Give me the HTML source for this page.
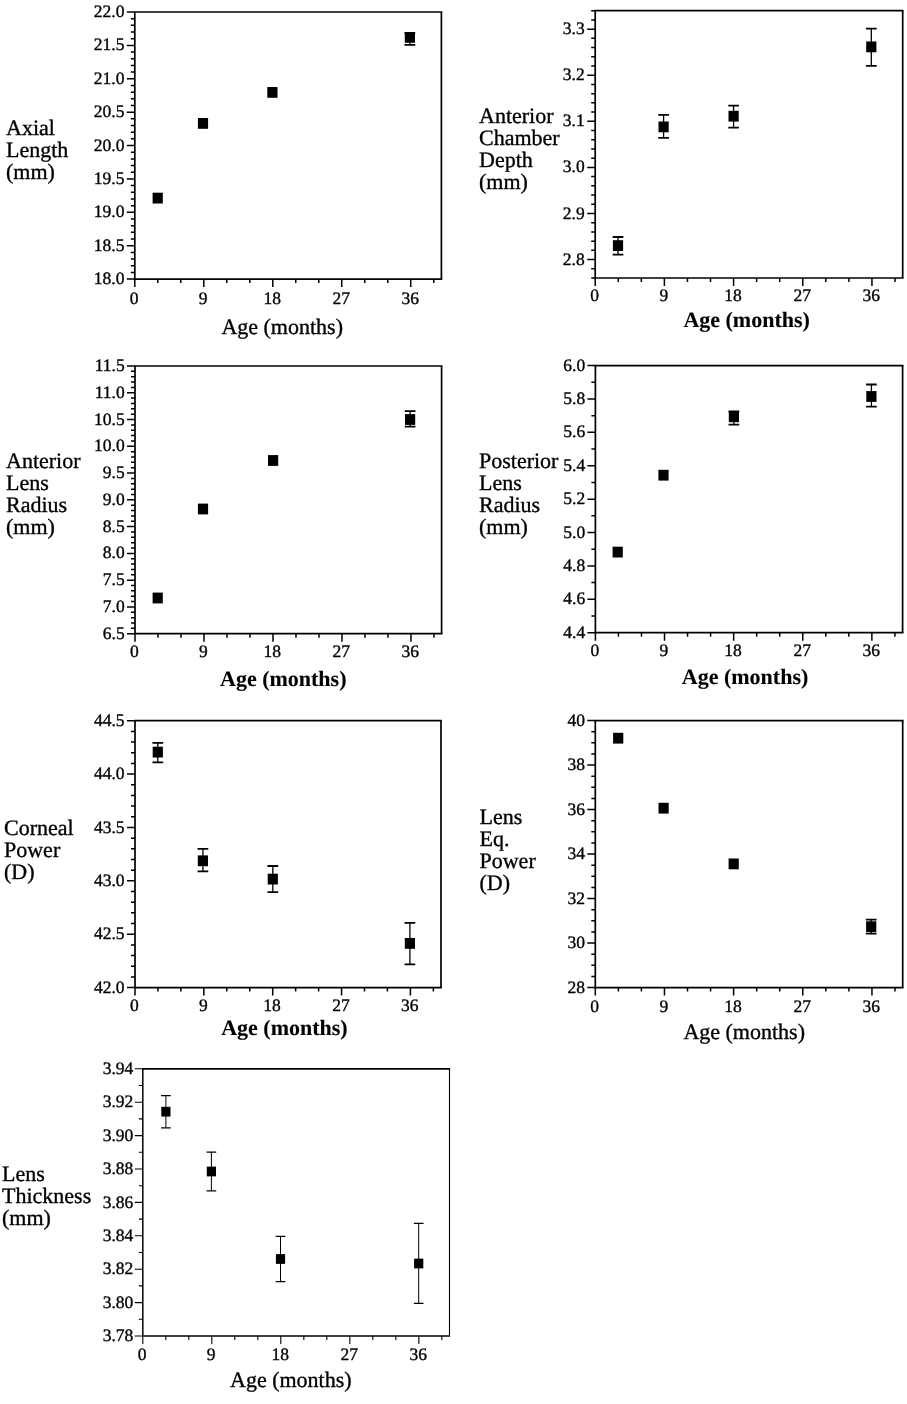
<!DOCTYPE html>
<html><head><meta charset="utf-8"><style>
html,body{margin:0;padding:0;background:#fff;}
svg{display:block;will-change:transform;}
text{font-family:"Liberation Serif", serif;fill:#000;stroke:#000;stroke-width:0.35px;text-rendering:geometricPrecision;}
</style></head><body>
<svg width="907" height="1404" viewBox="0 0 907 1404">
<rect width="907" height="1404" fill="#fff"/>
<path d="M133.95 12H442.25" stroke="#000" stroke-width="1.7"/>
<path d="M441.4 12V279.1" stroke="#000" stroke-width="1.7"/>
<path d="M133.95 279.1H442.25" stroke="#000" stroke-width="1.7"/>
<path d="M134.8 12V279.1" stroke="#000" stroke-width="1.7"/>
<text x="124.4" y="284.2" text-anchor="end" font-size="17.5">18.0</text>
<text x="124.4" y="250.81" text-anchor="end" font-size="17.5">18.5</text>
<text x="124.4" y="217.43" text-anchor="end" font-size="17.5">19.0</text>
<text x="124.4" y="184.04" text-anchor="end" font-size="17.5">19.5</text>
<text x="124.4" y="150.65" text-anchor="end" font-size="17.5">20.0</text>
<text x="124.4" y="117.26" text-anchor="end" font-size="17.5">20.5</text>
<text x="124.4" y="83.88" text-anchor="end" font-size="17.5">21.0</text>
<text x="124.4" y="50.49" text-anchor="end" font-size="17.5">21.5</text>
<text x="124.4" y="17.1" text-anchor="end" font-size="17.5">22.0</text>
<text x="134.2" y="304.1" text-anchor="middle" font-size="17.5">0</text>
<text x="203.19" y="304.1" text-anchor="middle" font-size="17.5">9</text>
<text x="272.17" y="304.1" text-anchor="middle" font-size="17.5">18</text>
<text x="341.15" y="304.1" text-anchor="middle" font-size="17.5">27</text>
<text x="410.14" y="304.1" text-anchor="middle" font-size="17.5">36</text>
<path d="M126.8 279.1H134.8M130.8 272.42H134.8M130.8 265.75H134.8M130.8 259.07H134.8M130.8 252.39H134.8M126.8 245.71H134.8M130.8 239.03H134.8M130.8 232.36H134.8M130.8 225.68H134.8M130.8 219H134.8M126.8 212.33H134.8M130.8 205.65H134.8M130.8 198.97H134.8M130.8 192.29H134.8M130.8 185.62H134.8M126.8 178.94H134.8M130.8 172.26H134.8M130.8 165.58H134.8M130.8 158.9H134.8M130.8 152.23H134.8M126.8 145.55H134.8M130.8 138.87H134.8M130.8 132.2H134.8M130.8 125.52H134.8M130.8 118.84H134.8M126.8 112.16H134.8M130.8 105.48H134.8M130.8 98.81H134.8M130.8 92.13H134.8M130.8 85.45H134.8M126.8 78.78H134.8M130.8 72.1H134.8M130.8 65.42H134.8M130.8 58.74H134.8M130.8 52.07H134.8M126.8 45.39H134.8M130.8 38.71H134.8M130.8 32.03H134.8M130.8 25.35H134.8M130.8 18.68H134.8M126.8 12H134.8M134.8 279.1V287.1M157.8 279.1V283.1M180.79 279.1V283.1M203.79 279.1V287.1M226.78 279.1V283.1M249.78 279.1V283.1M272.77 279.1V287.1M295.76 279.1V283.1M318.76 279.1V283.1M341.75 279.1V287.1M364.75 279.1V283.1M387.75 279.1V283.1M410.74 279.1V287.1M433.73 279.1V283.1" stroke="#000" stroke-width="1.5" fill="none"/>
<rect x="152.6" y="192.69" width="10.2" height="10.81" fill="#000"/>
<rect x="197.9" y="117.99" width="10.2" height="10.81" fill="#000"/>
<rect x="267.3" y="86.99" width="10.2" height="10.81" fill="#000"/>
<path d="M409.9 32.8V44.8" stroke="#000" stroke-width="1.3" fill="none"/>
<path d="M404.54 32.8H415.25M404.54 44.8H415.25" stroke="#000" stroke-width="1.8" fill="none"/>
<rect x="404.8" y="31.99" width="10.2" height="10.81" fill="#000"/>
<text x="6" y="134.8" font-size="22">Axial</text>
<text x="6" y="156.8" font-size="22">Length</text>
<text x="6" y="178.8" font-size="22">(mm)</text>
<text x="221.4" y="334.2" font-size="22">Age (months)</text>
<path d="M594.35 10.7H903.55" stroke="#000" stroke-width="1.7"/>
<path d="M902.7 10.7V278" stroke="#000" stroke-width="1.7"/>
<path d="M594.35 278H903.55" stroke="#000" stroke-width="1.7"/>
<path d="M595.2 10.7V278" stroke="#000" stroke-width="1.7"/>
<text x="584.7" y="264.67" text-anchor="end" font-size="17.5">2.8</text>
<text x="584.7" y="218.58" text-anchor="end" font-size="17.5">2.9</text>
<text x="584.7" y="172.49" text-anchor="end" font-size="17.5">3.0</text>
<text x="584.7" y="126.41" text-anchor="end" font-size="17.5">3.1</text>
<text x="584.7" y="80.32" text-anchor="end" font-size="17.5">3.2</text>
<text x="584.7" y="34.23" text-anchor="end" font-size="17.5">3.3</text>
<text x="594.6" y="301.3" text-anchor="middle" font-size="17.5">0</text>
<text x="663.79" y="301.3" text-anchor="middle" font-size="17.5">9</text>
<text x="732.98" y="301.3" text-anchor="middle" font-size="17.5">18</text>
<text x="802.16" y="301.3" text-anchor="middle" font-size="17.5">27</text>
<text x="871.35" y="301.3" text-anchor="middle" font-size="17.5">36</text>
<path d="M591.2 278H595.2M591.2 268.78H595.2M587.2 259.57H595.2M591.2 250.35H595.2M591.2 241.13H595.2M591.2 231.91H595.2M591.2 222.7H595.2M587.2 213.48H595.2M591.2 204.26H595.2M591.2 195.04H595.2M591.2 185.83H595.2M591.2 176.61H595.2M587.2 167.39H595.2M591.2 158.18H595.2M591.2 148.96H595.2M591.2 139.74H595.2M591.2 130.52H595.2M587.2 121.31H595.2M591.2 112.09H595.2M591.2 102.87H595.2M591.2 93.66H595.2M591.2 84.44H595.2M587.2 75.22H595.2M591.2 66H595.2M591.2 56.79H595.2M591.2 47.57H595.2M591.2 38.35H595.2M587.2 29.13H595.2M591.2 19.92H595.2M591.2 10.7H595.2M595.2 278V286M618.26 278V282M641.33 278V282M664.39 278V286M687.45 278V282M710.51 278V282M733.58 278V286M756.64 278V282M779.7 278V282M802.76 278V286M825.83 278V282M848.89 278V282M871.95 278V286M895.01 278V282" stroke="#000" stroke-width="1.5" fill="none"/>
<path d="M618 237V254.7" stroke="#000" stroke-width="1.3" fill="none"/>
<path d="M612.64 237H623.36M612.64 254.7H623.36" stroke="#000" stroke-width="1.8" fill="none"/>
<rect x="612.9" y="240.19" width="10.2" height="10.81" fill="#000"/>
<path d="M663.6 114.9V137.9" stroke="#000" stroke-width="1.3" fill="none"/>
<path d="M658.25 114.9H668.96M658.25 137.9H668.96" stroke="#000" stroke-width="1.8" fill="none"/>
<rect x="658.5" y="121.49" width="10.2" height="10.81" fill="#000"/>
<path d="M733.6 105.6V127.7" stroke="#000" stroke-width="1.3" fill="none"/>
<path d="M728.25 105.6H738.96M728.25 127.7H738.96" stroke="#000" stroke-width="1.8" fill="none"/>
<rect x="728.5" y="110.79" width="10.2" height="10.81" fill="#000"/>
<path d="M871.3 28.7V65.8" stroke="#000" stroke-width="1.3" fill="none"/>
<path d="M865.94 28.7H876.65M865.94 65.8H876.65" stroke="#000" stroke-width="1.8" fill="none"/>
<rect x="866.2" y="41.49" width="10.2" height="10.81" fill="#000"/>
<text x="479" y="123.1" font-size="22">Anterior</text>
<text x="479" y="145.1" font-size="22">Chamber</text>
<text x="479" y="167.1" font-size="22">Depth</text>
<text x="479" y="189.1" font-size="22">(mm)</text>
<text x="683.4" y="327.2" font-size="22" font-weight="bold" style="stroke-width:0.1px">Age (months)</text>
<path d="M134.15 366H442.45" stroke="#000" stroke-width="1.7"/>
<path d="M441.6 366V633.7" stroke="#000" stroke-width="1.7"/>
<path d="M134.15 633.7H442.45" stroke="#000" stroke-width="1.7"/>
<path d="M135 366V633.7" stroke="#000" stroke-width="1.7"/>
<text x="124.7" y="638.8" text-anchor="end" font-size="17.5">6.5</text>
<text x="124.7" y="612.03" text-anchor="end" font-size="17.5">7.0</text>
<text x="124.7" y="585.26" text-anchor="end" font-size="17.5">7.5</text>
<text x="124.7" y="558.49" text-anchor="end" font-size="17.5">8.0</text>
<text x="124.7" y="531.72" text-anchor="end" font-size="17.5">8.5</text>
<text x="124.7" y="504.95" text-anchor="end" font-size="17.5">9.0</text>
<text x="124.7" y="478.18" text-anchor="end" font-size="17.5">9.5</text>
<text x="124.7" y="451.41" text-anchor="end" font-size="17.5">10.0</text>
<text x="124.7" y="424.64" text-anchor="end" font-size="17.5">10.5</text>
<text x="124.7" y="397.87" text-anchor="end" font-size="17.5">11.0</text>
<text x="124.7" y="371.1" text-anchor="end" font-size="17.5">11.5</text>
<text x="134.4" y="656.7" text-anchor="middle" font-size="17.5">0</text>
<text x="203.39" y="656.7" text-anchor="middle" font-size="17.5">9</text>
<text x="272.37" y="656.7" text-anchor="middle" font-size="17.5">18</text>
<text x="341.36" y="656.7" text-anchor="middle" font-size="17.5">27</text>
<text x="410.34" y="656.7" text-anchor="middle" font-size="17.5">36</text>
<path d="M127 633.7H135M131 628.35H135M131 622.99H135M131 617.64H135M131 612.28H135M127 606.93H135M131 601.58H135M131 596.22H135M131 590.87H135M131 585.51H135M127 580.16H135M131 574.81H135M131 569.45H135M131 564.1H135M131 558.74H135M127 553.39H135M131 548.04H135M131 542.68H135M131 537.33H135M131 531.97H135M127 526.62H135M131 521.27H135M131 515.91H135M131 510.56H135M131 505.2H135M127 499.85H135M131 494.5H135M131 489.14H135M131 483.79H135M131 478.43H135M127 473.08H135M131 467.73H135M131 462.37H135M131 457.02H135M131 451.66H135M127 446.31H135M131 440.96H135M131 435.6H135M131 430.25H135M131 424.89H135M127 419.54H135M131 414.19H135M131 408.83H135M131 403.48H135M131 398.12H135M127 392.77H135M131 387.42H135M131 382.06H135M131 376.71H135M131 371.35H135M127 366H135M135 633.7V641.7M158 633.7V637.7M180.99 633.7V637.7M203.99 633.7V641.7M226.98 633.7V637.7M249.98 633.7V637.7M272.97 633.7V641.7M295.97 633.7V637.7M318.96 633.7V637.7M341.96 633.7V641.7M364.95 633.7V637.7M387.94 633.7V637.7M410.94 633.7V641.7M433.94 633.7V637.7" stroke="#000" stroke-width="1.5" fill="none"/>
<rect x="152.6" y="592.59" width="10.2" height="10.81" fill="#000"/>
<rect x="197.9" y="503.59" width="10.2" height="10.81" fill="#000"/>
<rect x="268" y="455.09" width="10.2" height="10.81" fill="#000"/>
<path d="M410.1 411.2V426.6" stroke="#000" stroke-width="1.3" fill="none"/>
<path d="M404.75 411.2H415.46M404.75 426.6H415.46" stroke="#000" stroke-width="1.8" fill="none"/>
<rect x="405" y="414.09" width="10.2" height="10.81" fill="#000"/>
<text x="6" y="467.6" font-size="22">Anterior</text>
<text x="6" y="489.6" font-size="22">Lens</text>
<text x="6" y="511.6" font-size="22">Radius</text>
<text x="6" y="533.6" font-size="22">(mm)</text>
<text x="220" y="685.6" font-size="22" font-weight="bold" style="stroke-width:0.1px">Age (months)</text>
<path d="M594.55 365.6H903.45" stroke="#000" stroke-width="1.7"/>
<path d="M902.6 365.6V632.7" stroke="#000" stroke-width="1.7"/>
<path d="M594.55 632.7H903.45" stroke="#000" stroke-width="1.7"/>
<path d="M595.4 365.6V632.7" stroke="#000" stroke-width="1.7"/>
<text x="585.2" y="637.8" text-anchor="end" font-size="17.5">4.4</text>
<text x="585.2" y="604.41" text-anchor="end" font-size="17.5">4.6</text>
<text x="585.2" y="571.02" text-anchor="end" font-size="17.5">4.8</text>
<text x="585.2" y="537.64" text-anchor="end" font-size="17.5">5.0</text>
<text x="585.2" y="504.25" text-anchor="end" font-size="17.5">5.2</text>
<text x="585.2" y="470.86" text-anchor="end" font-size="17.5">5.4</text>
<text x="585.2" y="437.47" text-anchor="end" font-size="17.5">5.6</text>
<text x="585.2" y="404.09" text-anchor="end" font-size="17.5">5.8</text>
<text x="585.2" y="370.7" text-anchor="end" font-size="17.5">6.0</text>
<text x="594.8" y="655.7" text-anchor="middle" font-size="17.5">0</text>
<text x="663.92" y="655.7" text-anchor="middle" font-size="17.5">9</text>
<text x="733.04" y="655.7" text-anchor="middle" font-size="17.5">18</text>
<text x="802.16" y="655.7" text-anchor="middle" font-size="17.5">27</text>
<text x="871.28" y="655.7" text-anchor="middle" font-size="17.5">36</text>
<path d="M587.4 632.7H595.4M591.4 616.01H595.4M587.4 599.31H595.4M591.4 582.62H595.4M587.4 565.92H595.4M591.4 549.23H595.4M587.4 532.54H595.4M591.4 515.84H595.4M587.4 499.15H595.4M591.4 482.46H595.4M587.4 465.76H595.4M591.4 449.07H595.4M587.4 432.37H595.4M591.4 415.68H595.4M587.4 398.99H595.4M591.4 382.29H595.4M587.4 365.6H595.4M595.4 632.7V640.7M618.44 632.7V636.7M641.48 632.7V636.7M664.52 632.7V640.7M687.56 632.7V636.7M710.6 632.7V636.7M733.64 632.7V640.7M756.68 632.7V636.7M779.72 632.7V636.7M802.76 632.7V640.7M825.8 632.7V636.7M848.84 632.7V636.7M871.88 632.7V640.7M894.92 632.7V636.7" stroke="#000" stroke-width="1.5" fill="none"/>
<rect x="612.6" y="546.69" width="10.2" height="10.81" fill="#000"/>
<rect x="658.4" y="469.79" width="10.2" height="10.81" fill="#000"/>
<path d="M733.9 411.5V424.6" stroke="#000" stroke-width="1.3" fill="none"/>
<path d="M728.54 411.5H739.25M728.54 424.6H739.25" stroke="#000" stroke-width="1.8" fill="none"/>
<rect x="728.8" y="411.39" width="10.2" height="10.81" fill="#000"/>
<path d="M871.4 384.5V406.7" stroke="#000" stroke-width="1.3" fill="none"/>
<path d="M866.04 384.5H876.75M866.04 406.7H876.75" stroke="#000" stroke-width="1.8" fill="none"/>
<rect x="866.3" y="391.09" width="10.2" height="10.81" fill="#000"/>
<text x="479" y="467.6" font-size="22">Posterior</text>
<text x="479" y="489.6" font-size="22">Lens</text>
<text x="479" y="511.6" font-size="22">Radius</text>
<text x="479" y="533.6" font-size="22">(mm)</text>
<text x="681.8" y="684.3" font-size="22" font-weight="bold" style="stroke-width:0.1px">Age (months)</text>
<path d="M134.15 720.7H441.85" stroke="#000" stroke-width="1.7"/>
<path d="M441 720.7V987.6" stroke="#000" stroke-width="1.7"/>
<path d="M134.15 987.6H441.85" stroke="#000" stroke-width="1.7"/>
<path d="M135 720.7V987.6" stroke="#000" stroke-width="1.7"/>
<text x="124.5" y="992.7" text-anchor="end" font-size="17.5">42.0</text>
<text x="124.5" y="939.32" text-anchor="end" font-size="17.5">42.5</text>
<text x="124.5" y="885.94" text-anchor="end" font-size="17.5">43.0</text>
<text x="124.5" y="832.56" text-anchor="end" font-size="17.5">43.5</text>
<text x="124.5" y="779.18" text-anchor="end" font-size="17.5">44.0</text>
<text x="124.5" y="725.8" text-anchor="end" font-size="17.5">44.5</text>
<text x="134.4" y="1011.1" text-anchor="middle" font-size="17.5">0</text>
<text x="203.25" y="1011.1" text-anchor="middle" font-size="17.5">9</text>
<text x="272.1" y="1011.1" text-anchor="middle" font-size="17.5">18</text>
<text x="340.95" y="1011.1" text-anchor="middle" font-size="17.5">27</text>
<text x="409.8" y="1011.1" text-anchor="middle" font-size="17.5">36</text>
<path d="M127 987.6H135M131 976.92H135M131 966.25H135M131 955.57H135M131 944.9H135M127 934.22H135M131 923.54H135M131 912.87H135M131 902.19H135M131 891.52H135M127 880.84H135M131 870.16H135M131 859.49H135M131 848.81H135M131 838.14H135M127 827.46H135M131 816.78H135M131 806.11H135M131 795.43H135M131 784.76H135M127 774.08H135M131 763.4H135M131 752.73H135M131 742.05H135M131 731.38H135M127 720.7H135M135 987.6V995.6M157.95 987.6V991.6M180.9 987.6V991.6M203.85 987.6V995.6M226.8 987.6V991.6M249.75 987.6V991.6M272.7 987.6V995.6M295.65 987.6V991.6M318.6 987.6V991.6M341.55 987.6V995.6M364.5 987.6V991.6M387.45 987.6V991.6M410.4 987.6V995.6M433.35 987.6V991.6" stroke="#000" stroke-width="1.5" fill="none"/>
<path d="M157.8 742.8V762.3" stroke="#000" stroke-width="1.3" fill="none"/>
<path d="M152.45 742.8H163.16M152.45 762.3H163.16" stroke="#000" stroke-width="1.8" fill="none"/>
<rect x="152.7" y="746.69" width="10.2" height="10.81" fill="#000"/>
<path d="M202.9 848.9V871.3" stroke="#000" stroke-width="1.3" fill="none"/>
<path d="M197.55 848.9H208.25M197.55 871.3H208.25" stroke="#000" stroke-width="1.8" fill="none"/>
<rect x="197.8" y="855.39" width="10.2" height="10.81" fill="#000"/>
<path d="M272.8 866V892.2" stroke="#000" stroke-width="1.3" fill="none"/>
<path d="M267.44 866H278.16M267.44 892.2H278.16" stroke="#000" stroke-width="1.8" fill="none"/>
<rect x="267.7" y="873.69" width="10.2" height="10.81" fill="#000"/>
<path d="M409.9 922.8V964.4" stroke="#000" stroke-width="1.3" fill="none"/>
<path d="M404.54 922.8H415.25M404.54 964.4H415.25" stroke="#000" stroke-width="1.8" fill="none"/>
<rect x="404.8" y="937.99" width="10.2" height="10.81" fill="#000"/>
<text x="4" y="835.4" font-size="22">Corneal</text>
<text x="4" y="857.4" font-size="22">Power</text>
<text x="4" y="879.4" font-size="22">(D)</text>
<text x="221.2" y="1035.3" font-size="22" font-weight="bold" style="stroke-width:0.1px">Age (months)</text>
<path d="M594.45 720.6H903.55" stroke="#000" stroke-width="1.7"/>
<path d="M902.7 720.6V987.6" stroke="#000" stroke-width="1.7"/>
<path d="M594.45 987.6H903.55" stroke="#000" stroke-width="1.7"/>
<path d="M595.3 720.6V987.6" stroke="#000" stroke-width="1.7"/>
<text x="585.1" y="992.7" text-anchor="end" font-size="17.5">28</text>
<text x="585.1" y="948.2" text-anchor="end" font-size="17.5">30</text>
<text x="585.1" y="903.7" text-anchor="end" font-size="17.5">32</text>
<text x="585.1" y="859.2" text-anchor="end" font-size="17.5">34</text>
<text x="585.1" y="814.7" text-anchor="end" font-size="17.5">36</text>
<text x="585.1" y="770.2" text-anchor="end" font-size="17.5">38</text>
<text x="585.1" y="725.7" text-anchor="end" font-size="17.5">40</text>
<text x="594.7" y="1011.6" text-anchor="middle" font-size="17.5">0</text>
<text x="663.86" y="1011.6" text-anchor="middle" font-size="17.5">9</text>
<text x="733.03" y="1011.6" text-anchor="middle" font-size="17.5">18</text>
<text x="802.2" y="1011.6" text-anchor="middle" font-size="17.5">27</text>
<text x="871.36" y="1011.6" text-anchor="middle" font-size="17.5">36</text>
<path d="M587.3 987.6H595.3M591.3 976.48H595.3M591.3 965.35H595.3M591.3 954.23H595.3M587.3 943.1H595.3M591.3 931.98H595.3M591.3 920.85H595.3M591.3 909.73H595.3M587.3 898.6H595.3M591.3 887.48H595.3M591.3 876.35H595.3M591.3 865.23H595.3M587.3 854.1H595.3M591.3 842.98H595.3M591.3 831.85H595.3M591.3 820.73H595.3M587.3 809.6H595.3M591.3 798.48H595.3M591.3 787.35H595.3M591.3 776.23H595.3M587.3 765.1H595.3M591.3 753.98H595.3M591.3 742.85H595.3M591.3 731.73H595.3M587.3 720.6H595.3M595.3 987.6V995.6M618.36 987.6V991.6M641.41 987.6V991.6M664.46 987.6V995.6M687.52 987.6V991.6M710.58 987.6V991.6M733.63 987.6V995.6M756.68 987.6V991.6M779.74 987.6V991.6M802.8 987.6V995.6M825.85 987.6V991.6M848.9 987.6V991.6M871.96 987.6V995.6M895.02 987.6V991.6" stroke="#000" stroke-width="1.5" fill="none"/>
<rect x="613.1" y="732.79" width="10.2" height="10.81" fill="#000"/>
<rect x="658.5" y="802.79" width="10.2" height="10.81" fill="#000"/>
<rect x="728.6" y="858.49" width="10.2" height="10.81" fill="#000"/>
<path d="M871.2 919.6V933.6" stroke="#000" stroke-width="1.3" fill="none"/>
<path d="M865.85 919.6H876.56M865.85 933.6H876.56" stroke="#000" stroke-width="1.8" fill="none"/>
<rect x="866.1" y="921.29" width="10.2" height="10.81" fill="#000"/>
<text x="479.5" y="824.3" font-size="22">Lens</text>
<text x="479.5" y="846.3" font-size="22">Eq.</text>
<text x="479.5" y="868.3" font-size="22">Power</text>
<text x="479.5" y="890.3" font-size="22">(D)</text>
<text x="683.4" y="1038.6" font-size="22">Age (months)</text>
<path d="M142.05 1068.8H450.05" stroke="#000" stroke-width="1.7"/>
<path d="M449.5 1068.8V1336" stroke="#000" stroke-width="1.1"/>
<path d="M142.05 1336H450.05" stroke="#000" stroke-width="1.5"/>
<path d="M142.8 1068.8V1336" stroke="#000" stroke-width="1.5"/>
<text x="133.3" y="1341.1" text-anchor="end" font-size="17.5">3.78</text>
<text x="133.3" y="1307.7" text-anchor="end" font-size="17.5">3.80</text>
<text x="133.3" y="1274.3" text-anchor="end" font-size="17.5">3.82</text>
<text x="133.3" y="1240.9" text-anchor="end" font-size="17.5">3.84</text>
<text x="133.3" y="1207.5" text-anchor="end" font-size="17.5">3.86</text>
<text x="133.3" y="1174.1" text-anchor="end" font-size="17.5">3.88</text>
<text x="133.3" y="1140.7" text-anchor="end" font-size="17.5">3.90</text>
<text x="133.3" y="1107.3" text-anchor="end" font-size="17.5">3.92</text>
<text x="133.3" y="1073.9" text-anchor="end" font-size="17.5">3.94</text>
<text x="142.2" y="1360" text-anchor="middle" font-size="17.5">0</text>
<text x="211.21" y="1360" text-anchor="middle" font-size="17.5">9</text>
<text x="280.21" y="1360" text-anchor="middle" font-size="17.5">18</text>
<text x="349.22" y="1360" text-anchor="middle" font-size="17.5">27</text>
<text x="418.23" y="1360" text-anchor="middle" font-size="17.5">36</text>
<path d="M134.8 1336H142.8M138.8 1319.3H142.8M134.8 1302.6H142.8M138.8 1285.9H142.8M134.8 1269.2H142.8M138.8 1252.5H142.8M134.8 1235.8H142.8M138.8 1219.1H142.8M134.8 1202.4H142.8M138.8 1185.7H142.8M134.8 1169H142.8M138.8 1152.3H142.8M134.8 1135.6H142.8M138.8 1118.9H142.8M134.8 1102.2H142.8M138.8 1085.5H142.8M134.8 1068.8H142.8M142.8 1336V1344M165.8 1336V1340M188.81 1336V1340M211.81 1336V1344M234.81 1336V1340M257.81 1336V1340M280.81 1336V1344M303.82 1336V1340M326.82 1336V1340M349.82 1336V1344M372.82 1336V1340M395.83 1336V1340M418.83 1336V1344M441.83 1336V1340" stroke="#000" stroke-width="1.1" fill="none"/>
<path d="M165.9 1095.6V1127.8" stroke="#000" stroke-width="1.0" fill="none"/>
<path d="M161.07 1095.6H170.73M161.07 1127.8H170.73" stroke="#000" stroke-width="1.3" fill="none"/>
<rect x="161.3" y="1106.82" width="9.2" height="9.75" fill="#000"/>
<path d="M211.4 1152.1V1190.9" stroke="#000" stroke-width="1.0" fill="none"/>
<path d="M206.57 1152.1H216.23M206.57 1190.9H216.23" stroke="#000" stroke-width="1.3" fill="none"/>
<rect x="206.8" y="1166.62" width="9.2" height="9.75" fill="#000"/>
<path d="M280.5 1236.4V1281.7" stroke="#000" stroke-width="1.0" fill="none"/>
<path d="M275.67 1236.4H285.33M275.67 1281.7H285.33" stroke="#000" stroke-width="1.3" fill="none"/>
<rect x="275.9" y="1254.12" width="9.2" height="9.75" fill="#000"/>
<path d="M418.7 1223.4V1303.3" stroke="#000" stroke-width="1.0" fill="none"/>
<path d="M413.87 1223.4H423.53M413.87 1303.3H423.53" stroke="#000" stroke-width="1.3" fill="none"/>
<rect x="414.1" y="1258.62" width="9.2" height="9.75" fill="#000"/>
<text x="2" y="1181" font-size="22">Lens</text>
<text x="2" y="1203" font-size="22">Thickness</text>
<text x="2" y="1225" font-size="22">(mm)</text>
<text x="230" y="1387.3" font-size="22">Age (months)</text>
</svg></body></html>
